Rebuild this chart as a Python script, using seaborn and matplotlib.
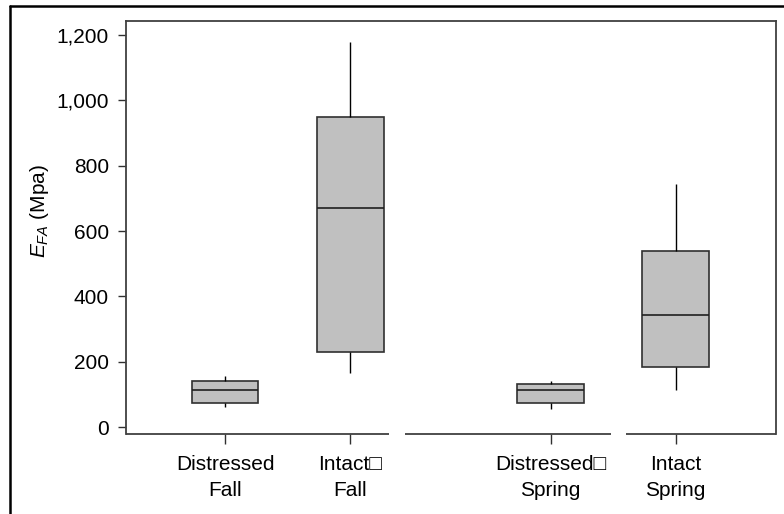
import numpy as np
import pandas as pd
import matplotlib
matplotlib.use("Agg")
import matplotlib.pyplot as plt
from matplotlib.lines import Line2D
from matplotlib.ticker import FuncFormatter
import seaborn as sns

# ---- data (five-number summaries) ----
groups = ["Distressed\nFall", "Intact\u25a1\nFall", "Distressed\u25a1\nSpring", "Intact\nSpring"]
positions = [1.0, 2.0, 3.6, 4.6]
mins = [60, 166, 56, 113]
q1s = [74, 230, 74, 185]
medians = [114, 670, 113, 344]
q3s = [142, 948, 131, 538]
maxs = [155, 1178, 140, 744]
yticks = [0, 200, 400, 600, 800, 1000, 1200]

rows = []
for p, a, b, c, d, e in zip(positions, mins, q1s, medians, q3s, maxs):
    for v in (a, b, c, d, e):
        rows.append({"pos": p, "val": v})
df = pd.DataFrame(rows)

sns.set_style("white")
plt.rcParams["font.family"] = ["Liberation Sans", "DejaVu Sans"]
plt.rcParams["mathtext.fontset"] = "custom"
plt.rcParams["mathtext.rm"] = "Liberation Sans"
plt.rcParams["mathtext.it"] = "Liberation Sans:italic"
for k in ("text.color", "axes.labelcolor", "xtick.color", "ytick.color"):
    plt.rcParams[k] = "black"

fig = plt.figure(figsize=(7.84, 5.14), dpi=100)
ax = fig.add_axes([0.1603, 0.1562, 0.9894 - 0.1603, 0.9591 - 0.1562])

sns.boxplot(data=df, x="pos", y="val", native_scale=True, width=0.53,
            whis=(0, 100), showcaps=False, color="#c0c0c0", ax=ax,
            boxprops=dict(facecolor="#c0c0c0", edgecolor="#303030", linewidth=1.2),
            medianprops=dict(color="#202020", linewidth=1.2),
            whiskerprops=dict(color="#000000", linewidth=1.0),
            flierprops=dict(marker=""))

ax.set_xlim(0.204, 5.40)
ax.set_ylim(-20.5, 1243)
ax.set_xticks(positions)
ax.set_xticklabels(groups, fontsize=15, linespacing=1.45)
ax.set_yticks(yticks)
ax.yaxis.set_major_formatter(FuncFormatter(lambda v, p: f"{int(v):,}"))
ax.tick_params(axis="y", labelsize=15, direction="out", length=6, width=1,
               color="#303030", pad=6, left=True)
ax.tick_params(axis="x", direction="out", length=7, width=1,
               color="#303030", pad=8.5, bottom=True)
ax.set_xlabel("")
ax.set_ylabel(r"$E_{FA}$ (Mpa)", fontsize=15)
ax.yaxis.set_label_coords(-0.115, 0.54)

for s in ("left", "top", "right"):
    ax.spines[s].set_visible(True)
    ax.spines[s].set_color("#404040")
    ax.spines[s].set_linewidth(1.3)
ax.spines["bottom"].set_visible(False)

# broken x axis line
segments = [(0.204, 2.31), (2.44, 4.08), (4.20, 5.40)]
for x0, x1 in segments:
    ax.plot([x0, x1], [0, 0], transform=ax.get_xaxis_transform(),
            color="#404040", linewidth=1.3, clip_on=False, solid_capstyle="butt")

# outer frame (top and left edges visible in the reference)
fig.add_artist(Line2D([9.7 / 784, 1.0], [1 - 6.2 / 514, 1 - 6.2 / 514],
                      transform=fig.transFigure, color="black", linewidth=1.8))
fig.add_artist(Line2D([9.7 / 784, 9.7 / 784], [0.0, 1 - 6.2 / 514],
                      transform=fig.transFigure, color="black", linewidth=1.8))

fig.savefig("out.png", dpi=100)
